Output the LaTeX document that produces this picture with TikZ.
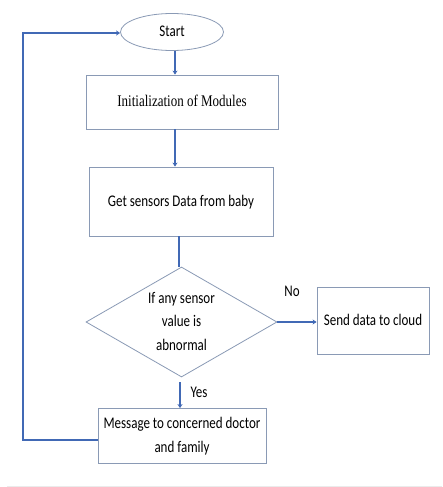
\documentclass[tikz,border=0pt]{standalone}
\usepackage{graphicx}
\usepackage{fontspec}
\setmainfont{Carlito}
\newfontfamily\timesf{Liberation Serif}
\usetikzlibrary{shapes.geometric,arrows.meta}
\definecolor{flowblue}{HTML}{4169B5}
\definecolor{boxedge}{HTML}{8A9AB5}
\newcommand{\vt}[1]{\scalebox{1}[1.25]{\begin{tabular}{@{}c@{}}#1\end{tabular}}}
\tikzset{
  x=1pt,y=-1pt,
  boxnode/.style={draw=boxedge,line width=0.8pt,fill=white,font=\fontsize{13}{19}\selectfont,inner sep=0pt},
  flowline/.style={draw=flowblue,line width=2.2pt},
  thinline/.style={draw=flowblue,line width=1.6pt},
  flowarrow/.style={flowline,-{Stealth[length=4pt,width=5pt]}},
  lbl/.style={font=\fontsize{13}{19}\selectfont,inner sep=0pt}
}
\begin{document}
\begin{tikzpicture}
\useasboundingbox (0,0) rectangle (442,487);
\node[boxnode,ellipse,minimum width=103pt,minimum height=37pt] (start) at (172,32) {\vt{Start}};
\node[boxnode,minimum width=192pt,minimum height=54pt,font=\timesf\fontsize{13}{19}\selectfont] (init) at (182,102) {\vt{Initialization of Modules}};
\node[boxnode,minimum width=184pt,minimum height=69pt] (get) at (181,201.5) {\vt{Get sensors Data from baby}};
\node[boxnode,diamond,aspect=1.75,minimum width=191pt,minimum height=110pt,inner sep=0pt] (dec) at (181.5,322) {};
\node[lbl] (dectext) at (dec.center) {\vt{If any sensor\\value is\\abnormal}};
\node[boxnode,minimum width=112pt,minimum height=67pt] (send) at (373,320.5) {\vt{Send data to cloud}};
\node[boxnode,minimum width=168pt,minimum height=55pt] (msg) at (182,436) {\vt{Message to concerned doctor\\and family}};
\node[lbl] (no) at (292,292) {\vt{No}};
\node[lbl] (yes) at (199,393) {\vt{Yes}};
\coordinate (c1) at (23,440);
\coordinate (c2) at (23,33);
\draw[flowarrow] (start.south -| 175,0) -- (init.north -| 175,0);
\draw[flowarrow] (init.south -| 175,0) -- (get.north -| 175,0);
\draw[thinline] (get.south -| 179,0) -- (dec.north -| 179,0);
\draw[flowarrow] (dec.east) -- (send.west |- dec.east);
\draw[thinline,-{Stealth[length=4pt,width=5pt]}] (180,382) -- (msg.north -| 180,0);
\draw[flowarrow] (msg.west |- c1) -- (c1) -- (c2) -- (start.west |- c2);
\draw[black!8,line width=1pt] (7,486) -- (442,486);
\end{tikzpicture}
\end{document}
